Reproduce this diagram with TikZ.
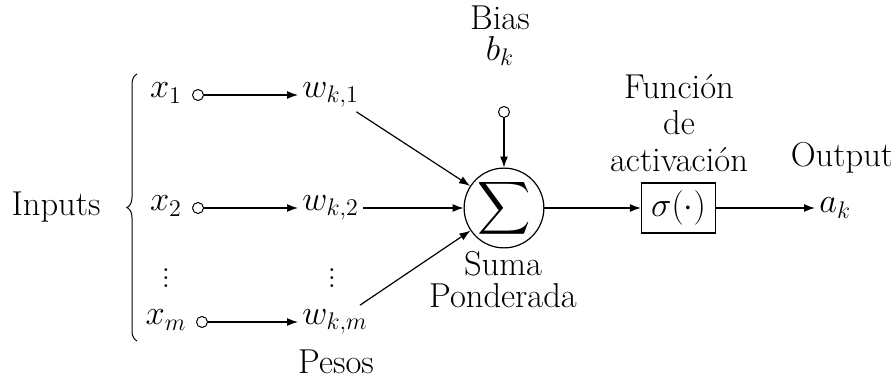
\documentclass[tikz,border=0pt]{standalone}
\usetikzlibrary{arrows.meta,decorations.pathreplacing}
\begin{document}
\begin{tikzpicture}[x=0.5pt,y=-0.5pt,
  lbl/.style={font=\LARGE,inner sep=2pt},
  wl/.style={font=\LARGE,inner sep=2pt,anchor=west},
  port/.style={circle,draw,inner sep=0pt,minimum size=5.5pt,line width=0.5pt},
  conn/.style={-{Latex[length=5.5pt,width=4pt]},line width=0.6pt}]
\useasboundingbox (0,0) rectangle (891,380);
% inputs
\node[lbl] (x1) at (166,93) {$x_1$};
\node[port] (c1) at (198,95) {};
\node[wl] (w1) at (298,95) {$w_{k,1}$};
\node[lbl] (x2) at (166,206) {$x_2$};
\node[port] (c2) at (198,208) {};
\node[wl] (w2) at (298,208) {$w_{k,2}$};
\node[lbl,inner sep=0pt] (d1) at (166,272) {$\vdots$};
\node[lbl,inner sep=0pt] (d2) at (332,272) {$\vdots$};
\node[lbl] (xm) at (166,320) {$x_m$};
\node[port] (cm) at (202,322) {};
\node[wl] (wm) at (298,322) {$w_{k,m}$};
\node[lbl] (pesos) at (336,362) {Pesos};
\node[lbl] (inputs) at (56,207) {Inputs};
\coordinate (bt) at (137,74);
\coordinate (bb) at (137,341);
\draw[decorate,decoration={brace,amplitude=5pt},line width=0.5pt] (bb) -- (bt);
% sum
\node[circle,draw,line width=0.6pt,minimum size=39pt,inner sep=0pt] (sum) at (504,208) {\scalebox{1.85}{\LARGE$\displaystyle\sum$}};
\node[port] (cb) at (504,112) {};
\node[lbl] (bias) at (500,18) {Bias};
\node[lbl] (bk) at (500,51) {$b_k$};
\node[lbl] (suma) at (503,264) {Suma};
\node[lbl] (pond) at (503,296) {Ponderada};
% activation
\node[lbl] (fun) at (679,87) {Función};
\node[lbl] (de) at (679,123) {de};
\node[lbl] (act) at (679,160) {activación};
\node[draw,line width=0.6pt,minimum width=37pt,minimum height=25pt,inner sep=0pt] (sig) at (678.5,208) {\fontsize{18.5}{22}\selectfont$\sigma(\cdot)$};
\node[lbl] (out) at (842,158) {Output};
\node[lbl,anchor=west] (ak) at (815,208) {$a_k$};
% connectors
\draw[conn] (c1) -- (w1);
\draw[conn] (c2) -- (w2);
\draw[conn] (cm) -- (wm);
\draw[conn] (w1) -- (sum);
\draw[conn] (w2) -- (sum);
\draw[conn] (wm) -- (sum);
\draw[conn] (cb) -- (sum);
\draw[conn] (sum) -- (sig);
\draw[conn] (sig) -- (ak);
\end{tikzpicture}
\end{document}
